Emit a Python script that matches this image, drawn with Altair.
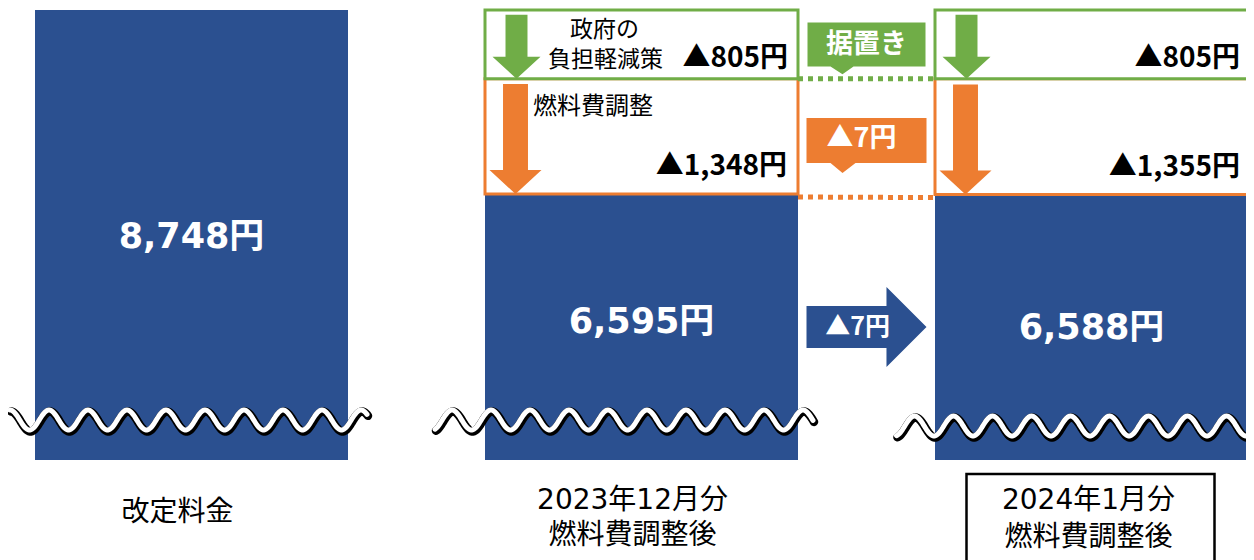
import altair as alt
import pandas as pd

# ---------------- data ----------------
bar_index = [0, 1, 2]
bar_lines = [["改定料金"], ["2023年12月分", "燃料費調整後"], ["2024年1月分", "燃料費調整後"]]
bill = [8748, 6595, 6588]            # 料金 (blue bars)
fuel_adjust = [0, 1348, 1355]        # 燃料費調整 (orange boxes)
gov_relief = [0, 805, 805]           # 政府の負担軽減策 (green boxes)
bill_labels = ["8,748円", "6,595円", "6,588円"]
fuel_labels = ["", "▲1,348円", "▲1,355円"]
relief_labels = ["", "▲805円", "▲805円"]
change_text = "▲7円"
keep_text = "据置き"
relief_title = ["政府の", "負担軽減策"]
fuel_title = "燃料費調整"

# ---------------- layout / style ----------------
BLUE, GREEN, ORANGE = "#2B5090", "#70AD47", "#ED7D31"
FONT = "Noto Sans CJK JP"
FONT_NUM = "DejaVu Sans, Noto Sans CJK JP"
W, H = 1238, 552
PX_PER_YEN = 0.08546
Y_HI = 8771.4
Y_LO = Y_HI - H / PX_PER_YEN
BREAK = Y_HI - 452 / PX_PER_YEN          # broken axis: value where bars are cut
STEP = 450.0
X_LO = -183.5 / STEP
X_HI = X_LO + W / STEP
HALF = 156.5 / STEP


def px_x(p):
    return p / STEP


def px_y(p):
    return p / PX_PER_YEN


xs = alt.Scale(domain=[X_LO, X_HI], nice=False, zero=False)
ys = alt.Scale(domain=[Y_LO, Y_HI], nice=False, zero=False)


def enc_xy(ch):
    return ch.encode(x=alt.X("x:Q", scale=xs, axis=None), y=alt.Y("y:Q", scale=ys, axis=None))


def rect_layer(df, **kw):
    return alt.Chart(df).mark_rect(**kw).encode(
        x=alt.X("x:Q", scale=xs, axis=None), x2="x2:Q",
        y=alt.Y("y:Q", scale=ys, axis=None), y2="y2:Q")


def text_layer(rows, font=FONT, **kw):
    df = pd.DataFrame(rows, columns=["x", "y", "t"])
    return enc_xy(alt.Chart(df).mark_text(font=font, baseline="middle", **kw)).encode(text="t:N")


def shape_layer(rows, path, size, color, **kw):
    df = pd.DataFrame(rows, columns=["x", "y"])
    return enc_xy(alt.Chart(df).mark_point(shape=path, size=size, filled=True, color=color,
                                           opacity=1, strokeWidth=0, **kw))


layers = []

# blue bars (cut at BREAK)
bars_df = pd.DataFrame({"x": [i - HALF for i in bar_index], "x2": [i + HALF for i in bar_index],
                        "y": [BREAK] * 3, "y2": bill})
layers.append(rect_layer(bars_df, color=BLUE))

# stacked boxes
idx2 = [1, 2]
orange_df = pd.DataFrame({"x": [i - HALF for i in idx2], "x2": [i + HALF for i in idx2],
                          "y": [bill[i] for i in idx2],
                          "y2": [bill[i] + fuel_adjust[i] for i in idx2]})
green_df = pd.DataFrame({"x": [i - HALF for i in idx2], "x2": [i + HALF for i in idx2],
                         "y": [bill[i] + fuel_adjust[i] for i in idx2],
                         "y2": [bill[i] + fuel_adjust[i] + gov_relief[i] for i in idx2]})
layers.append(rect_layer(orange_df, fill="white", stroke=ORANGE, strokeWidth=3))
layers.append(rect_layer(green_df, fill="white", stroke=GREEN, strokeWidth=3))

# down arrows inside boxes
GREEN_ARROW = "M0,0L-1,-0.917L-0.458,-0.917L-0.458,-2.667L0.458,-2.667L0.458,-0.917L1,-0.917Z"
ORANGE_ARROW = "M0,0L-1,-0.923L-0.48,-0.923L-0.48,-4.23L0.48,-4.23L0.48,-0.923L1,-0.923Z"
layers.append(shape_layer([(i - px_x(125), bill[i] + fuel_adjust[i]) for i in idx2],
                          GREEN_ARROW, 2304, GREEN))
layers.append(shape_layer([(i - px_x(126), bill[i]) for i in idx2],
                          ORANGE_ARROW, 2704, ORANGE))

# dotted connectors
bnd = [bill[i] + fuel_adjust[i] for i in idx2]
dg = pd.DataFrame({"x": [1 + HALF, 2 - HALF], "y": bnd})
layers.append(enc_xy(alt.Chart(dg).mark_line(color=GREEN, strokeWidth=5, strokeDash=[5, 5])))
do = pd.DataFrame({"x": [1 + HALF, 2 - HALF], "y": [bill[1], bill[2]]})
layers.append(enc_xy(alt.Chart(do).mark_line(color=ORANGE, strokeWidth=5, strokeDash=[5, 5], yOffset=3)))

# callouts
GREEN_CALLOUT = "M-1,-0.373L1,-0.373L1,0.373L-0.22,0.373L-0.407,0.508L-0.61,0.373L-1,0.373Z"
ORANGE_CALLOUT = "M-1,-0.375L1,-0.375L1,0.375L-0.183,0.375L-0.4,0.542L-0.6,0.375L-1,0.375Z"
green_mid = (bnd[0] + bnd[0] + gov_relief[1]) / 2
orange_mid = (bill[1] + bnd[0]) / 2
layers.append(shape_layer([(1.5, green_mid)], GREEN_CALLOUT, 118 * 118, GREEN))
layers.append(shape_layer([(1.5, orange_mid)], ORANGE_CALLOUT, 120 * 120, ORANGE, yOffset=4))

# blue right arrow
BLUE_ARROW = "M-1,-0.35L0.333,-0.35L0.333,-0.667L1,0L0.333,0.667L0.333,0.35L-1,0.35Z"
blue_mid = (bill[1] + BREAK) / 2
layers.append(shape_layer([(1.5, blue_mid)], BLUE_ARROW, 120 * 120, BLUE))

# wavy break marks (decoration)
waves = [(0, -181.5, 175.5, -181.5, 40), (1, -206.5, 171.5, -189.5, 40), (2, -195, 165, -177, 34)]
for i, s, e, c, above in waves:
    n = int(e - s) + 1
    base = (alt.Chart(alt.sequence(0, n, 1, as_="k"))
            .transform_calculate(
                x=f"{i} + ({s} + datum.k) / {STEP}",
                y=f"{BREAK} + ({above} + 10 * cos(2 * PI * ({s} + datum.k - ({c})) / 39)) / {PX_PER_YEN}"))
    layers.append(enc_xy(base.mark_line(color="black", strokeWidth=8.5, xOffset=1, yOffset=1.5,
                                        clip=True, strokeCap="round")))
    layers.append(enc_xy(base.mark_line(color="white", strokeWidth=5, clip=True, strokeCap="round")))

# bottom box for latest month
bb = pd.DataFrame({"x": [2 - px_x(125)], "x2": [2 + px_x(123)],
                   "y": [BREAK - px_y(14)], "y2": [Y_LO - px_y(60)]})
layers.append(rect_layer(bb, fill="white", fillOpacity=0, stroke="black", strokeWidth=2.5, clip=True))

# ---------------- texts ----------------
big_off = [-2, 5, -1]
layers.append(text_layer([(i, (bill[i] + BREAK) / 2 + px_y(big_off[i]), bill_labels[i]) for i in bar_index],
                         font=FONT_NUM, fontSize=35, fontWeight="bold", color="white"))
layers.append(text_layer([(1 - px_x(37), 8748 - px_y(20), relief_title[0]),
                          (1 - px_x(36), 8748 - px_y(50), relief_title[1])],
                         fontSize=23, color="black"))
layers.append(text_layer([(1 - HALF + px_x(48), bnd[0] - px_y(28), fuel_title)],
                         fontSize=24, color="black", align="left"))
layers.append(text_layer([(1 + HALF - px_x(10), 8748 - px_y(49), relief_labels[1]),
                          (2 + HALF - px_x(8), 8748 - px_y(49), relief_labels[2]),
                          (1 + HALF - px_x(11), bill[1] + px_y(27), fuel_labels[1]),
                          (2 + HALF - px_x(8), bill[2] + px_y(27), fuel_labels[2])],
                         fontSize=28, fontWeight="bold", color="black", align="right"))
layers.append(text_layer([(1.5, green_mid - px_y(1), keep_text)],
                         fontSize=27, fontWeight="bold", color="white"))
layers.append(text_layer([(1.5 - px_x(5), orange_mid - px_y(3), change_text)],
                         fontSize=27, fontWeight="bold", color="white"))
layers.append(text_layer([(1.5 - px_x(9), blue_mid, change_text)],
                         fontSize=25, fontWeight="bold", color="white"))
bottom_rows = [(0 - px_x(14), BREAK - px_y(53), bar_lines[0][0]),
               (1 - px_x(9), BREAK - px_y(41), bar_lines[1][0]),
               (1 - px_x(9), BREAK - px_y(76), bar_lines[1][1]),
               (2 - px_x(3), BREAK - px_y(41), bar_lines[2][0]),
               (2 - px_x(3), BREAK - px_y(78), bar_lines[2][1])]
layers.append(text_layer(bottom_rows, font=FONT_NUM, fontSize=28, color="black"))

chart = (alt.layer(*layers)
         .properties(width=W, height=H, padding=0, autosize=alt.AutoSizeParams(type="none"),
                     background="white")
         .configure_view(stroke=None))

chart.save("out.html", embed_options={"renderer": "svg", "actions": False})
